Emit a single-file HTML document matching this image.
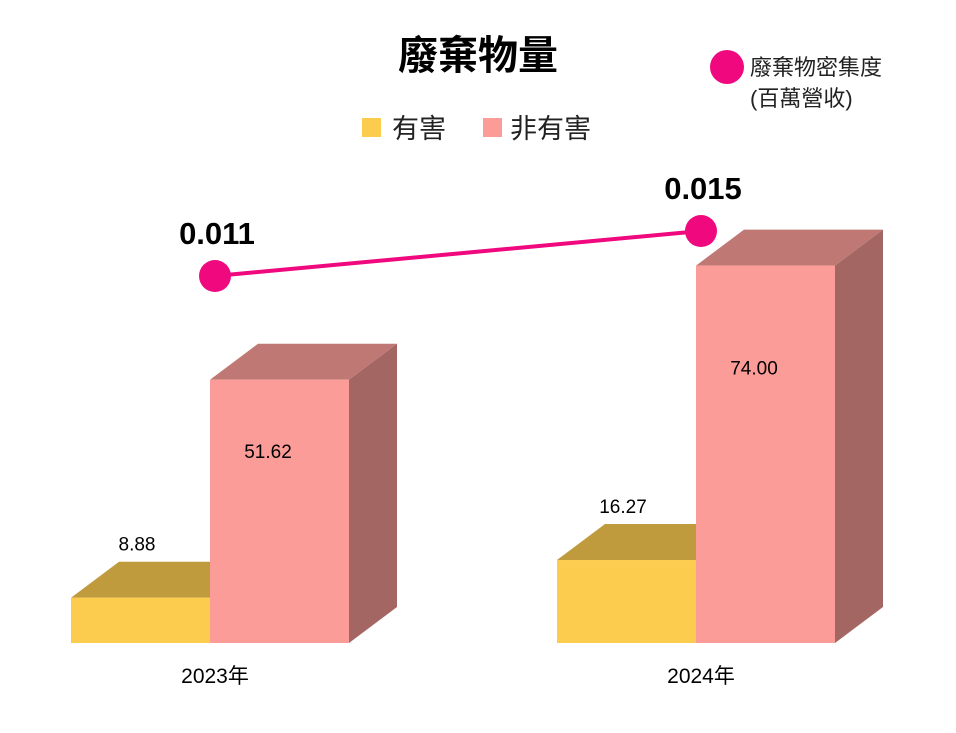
<!DOCTYPE html>
<html><head><meta charset="utf-8">
<style>
body{margin:0;background:#fff;}
svg text{font-family:"Liberation Sans","Noto Sans CJK TC",sans-serif;}
</style></head>
<body>
<svg id="chart" width="956" height="728" viewBox="0 0 956 728">
<text x="478" y="69" text-anchor="middle" font-size="40" font-weight="bold" fill="#000">廢棄物量</text>
<g>
<rect x="362" y="118" width="19" height="19" fill="#FCCC4F"/>
<text x="392" y="138" font-size="27" fill="#222">有害</text>
<rect x="483" y="118" width="19" height="19" fill="#FB9C98"/>
<text x="510" y="138" font-size="27" fill="#222">非有害</text>
<circle cx="727" cy="67" r="17" fill="#F0087F"/>
<text x="750" y="75" font-size="22" fill="#222">廢棄物密集度</text>
<text x="750" y="106" font-size="22" fill="#222">(百萬營收)</text>
</g>
<g id="bars"></g>
<g id="line"></g>
</svg>
<script>
const categories=["2023年","2024年"];
const hazardous=[8.88,16.27];
const nonHazardous=[51.62,74.00];
const density=[0.011,0.015];
const densityLabels=["0.011","0.015"];

const NS="http://www.w3.org/2000/svg";
const baseY=643, pxPerUnit=5.1, barW=139, dx=48, dy=-36;
const groupX=[71,557];
function yv(v){return baseY-v*pxPerUnit;}
function yd(v){return 276-(v-0.011)*11250;}
function mk(tag,attrs,parent){const e=document.createElementNS(NS,tag);for(const k in attrs)e.setAttribute(k,attrs[k]);parent.appendChild(e);return e;}
const bars=document.getElementById('bars');
function bar3d(x,v,front,top,side,name,parent){
  const g=mk('g',{},parent);
  
  
  const t=yv(v);
  mk('polygon',{points:`${x},${t} ${x+dx},${t+dy} ${x+barW+dx},${t+dy} ${x+barW},${t}`,fill:top},g);
  mk('polygon',{points:`${x+barW},${t} ${x+barW+dx},${t+dy} ${x+barW+dx},${baseY+dy} ${x+barW},${baseY}`,fill:side},g);
  mk('rect',{x:x,y:t,width:barW,height:baseY-t,fill:front},g);
  return t;
}
categories.forEach((c,i)=>{
  const x=groupX[i];
  const th=bar3d(x,hazardous[i],"#FCCC4F","#C09B3E","#A07F30","bar-hazardous-"+i,bars);
  const tl=mk('text',{x:x+66,y:th-47,'text-anchor':'middle','font-size':19,fill:'#000'},bars);
  tl.textContent=hazardous[i].toFixed(2);
  
  
  const tn=bar3d(x+barW,nonHazardous[i],"#FB9C98","#C07875","#A36663","bar-nonhazardous-"+i,bars);
  const nl=mk('text',{x:x+barW+58,y:tn+0.27*(baseY-tn)+7,'text-anchor':'middle','font-size':19,fill:'#000'},bars);
  nl.textContent=nonHazardous[i].toFixed(2);
  
  
  const cl=mk('text',{x:x+barW+5,y:683,'text-anchor':'middle','font-size':21,fill:'#000'},bars);
  cl.textContent=c;
  
  
});
const line=document.getElementById('line');
const px=groupX.map(x=>x+barW+5);
const pl=mk('polyline',{points:density.map((d,i)=>`${px[i]},${yd(d)}`).join(' '),fill:'none',stroke:'#F0087F','stroke-width':4},line);


density.forEach((d,i)=>{
  const c=mk('circle',{cx:px[i],cy:yd(d),r:16,fill:'#F0087F'},line);
  
  
  const t=mk('text',{x:px[i]+2,y:yd(d)-32,'text-anchor':'middle','font-size':31,'font-weight':'bold',fill:'#000'},line);
  t.textContent=densityLabels[i];
  
  
});
</script>
</body></html>
